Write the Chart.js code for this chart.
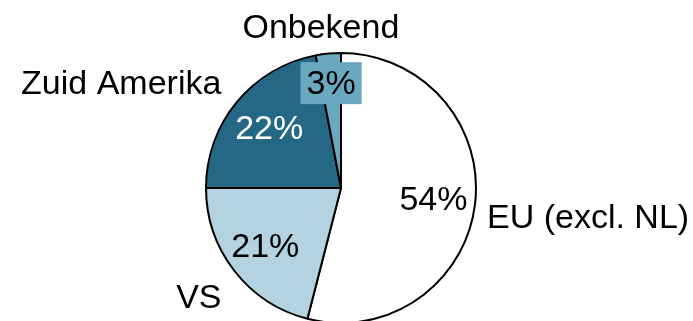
<!DOCTYPE html>
<html>
<head>
<meta charset="utf-8">
<script src="https://cdn.jsdelivr.net/npm/chart.js@4/dist/chart.umd.min.js"></script>
<style>
  html, body { margin: 0; padding: 0; background: #fff; overflow: hidden; }
  #wrap { width: 693px; height: 376px; position: relative; }
</style>
</head>
<body>
<div id="wrap"><canvas id="regioPie"></canvas></div>
<script>
// data
var regions = ['EU (excl. NL)', 'VS', 'Zuid Amerika', 'Onbekend'];
var shares = [54, 21, 22, 3];
var sliceColors = ['#ffffff', '#b2d3df', '#256885', '#69a8bf'];

// label styling per slice: inner % label radius, text colour, outside name placement
var pctRadius = [0.69, 0.71, 0.69, 0.78];
var pctColor = ['#000', '#000', '#fff', '#000'];
var nameAlign = ['left', 'right', 'right', 'center'];
var nameRadius = [1.09, 1.12, 1.15, 1.19];
var nameShiftY = [12, 18, -4, 1];
var nameShiftX = [0, 0, 0, -5];

var FONT = '34px "Liberation Sans", Arial, sans-serif';

var sliceLabels = {
    id: 'sliceLabels',
    afterDatasetsDraw: function (chart) {
        var ctx = chart.ctx;
        var meta = chart.getDatasetMeta(0);
        ctx.save();
        ctx.font = FONT;
        ctx.textBaseline = 'middle';
        meta.data.forEach(function (arc, i) {
            var mid = (arc.startAngle + arc.endAngle) / 2;
            var r = arc.outerRadius;
            var cos = Math.cos(mid), sin = Math.sin(mid);

            // percentage inside
            var px = arc.x + cos * r * pctRadius[i];
            var py = arc.y + sin * r * pctRadius[i];
            var txt = shares[i] + '%';
            ctx.textAlign = 'center';
            if (i === 3) {
                var w = ctx.measureText(txt).width;
                ctx.fillStyle = sliceColors[i];
                ctx.fillRect(px - w / 2 - 6, py - 21, w + 12, 42);
            }
            ctx.fillStyle = pctColor[i];
            ctx.fillText(txt, px, py + 1);

            // category name outside
            var nx = arc.x + cos * r * nameRadius[i] + nameShiftX[i];
            var ny = arc.y + sin * r * nameRadius[i] + nameShiftY[i];
            ctx.textAlign = nameAlign[i];
            ctx.fillStyle = '#000';
            ctx.fillText(regions[i], nx, ny);
        });
        ctx.restore();
    }
};

function drawRegioPie() {
    var ctx = document.getElementById('regioPie').getContext('2d');
    new Chart(ctx, {
        type: 'pie',
        data: {
            labels: regions,
            datasets: [{
                data: shares,
                backgroundColor: sliceColors,
                borderColor: '#000',
                borderWidth: 2
            }]
        },
        options: {
            responsive: true,
            maintainAspectRatio: false,
            animation: false,
            layout: { padding: { top: 52, bottom: 52, left: 0, right: 11 } },
            plugins: {
                legend: { display: false },
                tooltip: { enabled: false }
            }
        },
        plugins: [sliceLabels]
    });
}

drawRegioPie();
</script>
</body>
</html>
